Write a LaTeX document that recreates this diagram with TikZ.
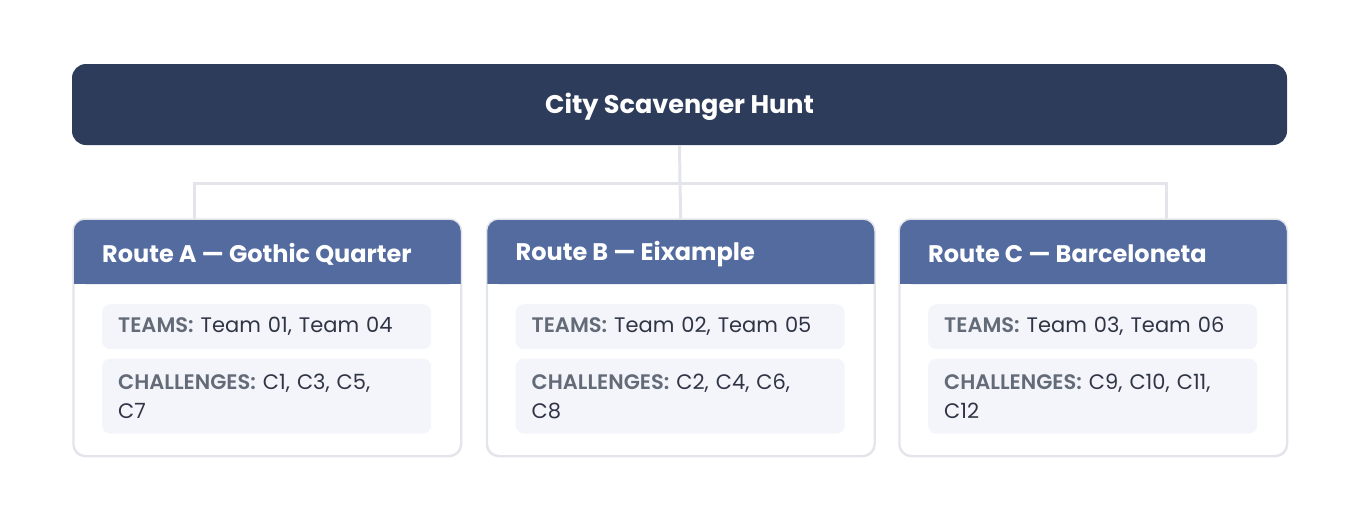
\documentclass[tikz,border=0pt]{standalone}
\usepackage{fontspec}
\setmainfont{Poppins}
\newfontfamily\semifont{Poppins SemiBold}
\usepackage{tikz}
\usetikzlibrary{positioning}
\definecolor{titlefill}{HTML}{2E3C5B}
\definecolor{headfill}{HTML}{536B9F}
\definecolor{cardline}{HTML}{E3E5EA}
\definecolor{itemfill}{HTML}{F4F5FA}
\definecolor{keytext}{HTML}{646B78}
\definecolor{valtext}{HTML}{2F3545}
\newcommand{\itemkey}[1]{{\semifont\color{keytext}#1}}

\begin{document}
\begin{tikzpicture}
			[x=1pt, y=-1pt,
			titlebox/.style={fill=titlefill, rounded corners=14pt, minimum width=1215pt,
				minimum height=81pt, text=white, font=\bfseries\fontsize{25.5}{30}\selectfont},
			card/.style={draw=cardline, line width=1.5pt, rounded corners=12pt,
				minimum width=387pt, minimum height=236pt, anchor=north west},
			headtext/.style={anchor=west, inner xsep=0pt, text=white, font=\bfseries\fontsize{24}{28}\selectfont},
			itembox/.style={fill=itemfill, rounded corners=8pt, anchor=north west,
				text width=297pt, inner xsep=16pt, inner ysep=0pt, align=left,
				text=valtext, font=\fontsize{21}{29}\selectfont},
			link/.style={draw=cardline, line width=3pt}]
			\useasboundingbox (0,0) rectangle (1360,520);
			% top node
			\node[titlebox] (hunt) at (679.5,104.5) {};
			\node[text=white, font=\bfseries\fontsize{25.5}{30}\selectfont] (huntlabel) at (679.5,107) {City Scavenger Hunt};
			% cards
			\node[card] (cardA) at (73,219) {};
			\node[card] (cardB) at (486.5,219) {};
			\node[card] (cardC) at (899,219) {};
			% connectors
			\coordinate (bus) at (680,183);
			\coordinate (dropA) at (194,219);
			\coordinate (dropC) at (1166,219);
			\draw[link] (hunt.south) -- (bus);
			\draw[link] (bus) -| (dropA);
			\draw[link] (bus) -| (dropC);
			\draw[link] (bus) -- (cardB.north);
			% headers and items
			\foreach \c/\name/\teams/\chal in {
				A/{Route A — Gothic Quarter}/{Team 01, Team 04}/{C1, C3, C5,\\C7},
				B/{Route B — Eixample}/{Team 02, Team 05}/{C2, C4, C6,\\C8},
				C/{Route C — Barceloneta}/{Team 03, Team 06}/{C9, C10, C11,\\C12}} {
				\fill[headfill, rounded corners=12pt] (card\c.north west) rectangle ([yshift=-65pt]card\c.north east);
				\fill[headfill] ([yshift=-30pt]card\c.north west) rectangle ([yshift=-65pt]card\c.north east);
				\draw[cardline, line width=1.5pt, rounded corners=12pt] (card\c.north west) rectangle (card\c.south east);
				\node[headtext] (head\c) at ([xshift=29pt, yshift=-35pt]card\c.north west) {\name};
				\node[itembox, minimum height=45pt] (teams\c) at ([xshift=29pt, yshift=-85pt]card\c.north west)
					{\itemkey{TEAMS:} \teams};
				\node[itembox, minimum height=75pt, below=9pt of teams\c.south west, anchor=north west] (chal\c)
					{\itemkey{CHALLENGES:} \chal};
			}
		\end{tikzpicture}
\end{document}
